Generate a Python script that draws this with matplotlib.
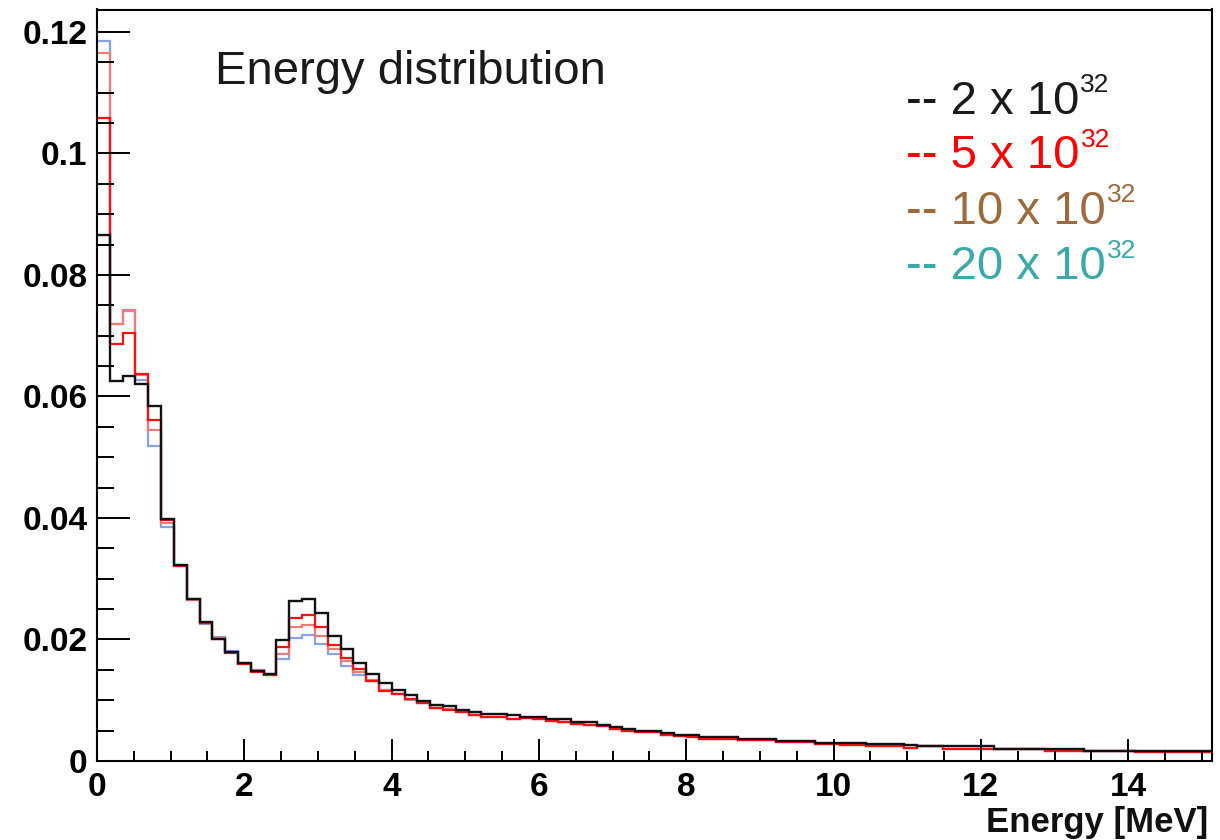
import numpy as np
import matplotlib
matplotlib.use("Agg")
import matplotlib.pyplot as plt
from matplotlib.ticker import MultipleLocator, FuncFormatter

# ---------------- data ----------------
bin_width = 0.174          # MeV
n_bins = 87

vals_2e32 = [
    0.0865, 0.0625, 0.0633, 0.0620, 0.0585, 0.0398, 0.0322, 0.0266, 0.0228, 0.0200,
    0.0179, 0.0161, 0.0148, 0.0143, 0.0199, 0.0263, 0.0266, 0.0243, 0.0206, 0.0184,
    0.0161, 0.0144, 0.0129, 0.0117, 0.0109, 0.0099, 0.0093, 0.0091, 0.0084, 0.0081,
    0.0077, 0.0077, 0.0075, 0.0073, 0.0073, 0.0069, 0.0069, 0.0064, 0.0064, 0.0060,
    0.0056, 0.0053, 0.0050, 0.0050, 0.0046, 0.0043, 0.0043, 0.0040, 0.0040, 0.0040,
    0.0037, 0.0037, 0.0037, 0.0033, 0.0033, 0.0033, 0.0030, 0.0030, 0.0030, 0.0030,
    0.0028, 0.0028, 0.0028, 0.0026, 0.0024, 0.0024, 0.0024, 0.0024, 0.0024, 0.0024,
    0.0019, 0.0019, 0.0019, 0.0019, 0.0019, 0.0019, 0.0019, 0.0016, 0.0016, 0.0016,
    0.0016, 0.0016, 0.0016, 0.0016, 0.0016, 0.0016, 0.0016]

vals_5e32 = [
    0.1059, 0.0687, 0.0704, 0.0637, 0.0562, 0.0397, 0.0321, 0.0266, 0.0227, 0.0201,
    0.0178, 0.0160, 0.0147, 0.0141, 0.0187, 0.0236, 0.0240, 0.0220, 0.0191, 0.0170,
    0.0151, 0.0132, 0.0116, 0.0110, 0.0102, 0.0095, 0.0087, 0.0084, 0.0080, 0.0076,
    0.0073, 0.0072, 0.0069, 0.0070, 0.0069, 0.0066, 0.0065, 0.0061, 0.0060, 0.0057,
    0.0053, 0.0050, 0.0047, 0.0047, 0.0043, 0.0041, 0.0040, 0.0037, 0.0037, 0.0037,
    0.0034, 0.0034, 0.0034, 0.0031, 0.0031, 0.0031, 0.0028, 0.0028, 0.0027, 0.0027,
    0.0025, 0.0025, 0.0025, 0.0022, 0.0024, 0.0024, 0.0020, 0.0020, 0.0020, 0.0020,
    0.0019, 0.0019, 0.0019, 0.0019, 0.0017, 0.0017, 0.0017, 0.0016, 0.0016, 0.0016,
    0.0016, 0.0014, 0.0014, 0.0014, 0.0014, 0.0014, 0.0014]

vals_10e32 = [
    0.1165, 0.0720, 0.0742, 0.0636, 0.0545, 0.0392, 0.0321, 0.0265, 0.0227, 0.0202,
    0.0180, 0.0160, 0.0149, 0.0142, 0.0176, 0.0220, 0.0224, 0.0205, 0.0184, 0.0165,
    0.0146, 0.0133, 0.0117, 0.0110, 0.0102, 0.0095, 0.0088, 0.0085, 0.0080, 0.0076,
    0.0073, 0.0072, 0.0069, 0.0070, 0.0069, 0.0066, 0.0065, 0.0061, 0.0060, 0.0057,
    0.0053, 0.0050, 0.0047, 0.0047, 0.0043, 0.0041, 0.0040, 0.0037, 0.0037, 0.0037,
    0.0034, 0.0034, 0.0034, 0.0031, 0.0031, 0.0031, 0.0028, 0.0028, 0.0027, 0.0027,
    0.0025, 0.0025, 0.0025, 0.0022, 0.0024, 0.0024, 0.0020, 0.0020, 0.0020, 0.0020,
    0.0019, 0.0019, 0.0019, 0.0019, 0.0017, 0.0017, 0.0017, 0.0016, 0.0016, 0.0016,
    0.0016, 0.0014, 0.0014, 0.0014, 0.0014, 0.0014, 0.0014]

vals_20e32 = [
    0.1185, 0.0720, 0.0740, 0.0627, 0.0519, 0.0385, 0.0321, 0.0265, 0.0226, 0.0204,
    0.0181, 0.0161, 0.0150, 0.0143, 0.0168, 0.0203, 0.0207, 0.0192, 0.0176, 0.0157,
    0.0141, 0.0132, 0.0117, 0.0110, 0.0101, 0.0095, 0.0088, 0.0085, 0.0080, 0.0076,
    0.0073, 0.0072, 0.0069, 0.0070, 0.0069, 0.0066, 0.0065, 0.0061, 0.0060, 0.0057,
    0.0053, 0.0050, 0.0047, 0.0047, 0.0043, 0.0041, 0.0040, 0.0037, 0.0037, 0.0037,
    0.0034, 0.0034, 0.0034, 0.0031, 0.0031, 0.0031, 0.0028, 0.0028, 0.0027, 0.0027,
    0.0025, 0.0025, 0.0025, 0.0022, 0.0024, 0.0024, 0.0020, 0.0020, 0.0020, 0.0020,
    0.0019, 0.0019, 0.0019, 0.0019, 0.0017, 0.0017, 0.0017, 0.0016, 0.0016, 0.0016,
    0.0016, 0.0014, 0.0014, 0.0014, 0.0014, 0.0014, 0.0014]

legend_labels = ["-- 2 x 10", "-- 5 x 10", "-- 10 x 10", "-- 20 x 10"]
legend_exp = "32"
legend_colors = ["#1a1a1a", "#ff0000", "#9c6b3b", "#3aa9a9"]

title_text = "Energy distribution"
x_label = "Energy [MeV]"
x_ticks = [0, 2, 4, 6, 8, 10, 12, 14]
y_ticks = [0, 0.02, 0.04, 0.06, 0.08, 0.1, 0.12]

# ---------------- figure ----------------
W, H = 1220, 840
fig = plt.figure(figsize=(W / 100, H / 100), dpi=100)
fig.patch.set_facecolor("white")

ax_l, ax_r, ax_t, ax_b = 97, 1212, 9.5, 761
ax = fig.add_axes([ax_l / W, 1 - ax_b / H, (ax_r - ax_l) / W, (ax_b - ax_t) / H])

edges = np.arange(n_bins + 1) * bin_width

series = [
    (vals_20e32, "#87a3e4", 1.6),
    (vals_10e32, "#f07a7a", 1.6),
    (vals_5e32, "#ff1010", 1.6),
    (vals_2e32, "#111111", 1.7),
]
for vals, col, lw in series:
    ax.stairs(vals, edges, baseline=None, color=col, linewidth=lw)

ax.set_xlim(0, edges[-1])
ax.set_ylim(0, 0.1237)

for sp in ax.spines.values():
    sp.set_linewidth(1.5)
    sp.set_color("black")

ax.xaxis.set_minor_locator(MultipleLocator(0.5))
ax.yaxis.set_minor_locator(MultipleLocator(0.005))
ax.set_xticks(x_ticks)
ax.set_yticks(y_ticks)
ax.yaxis.set_major_formatter(FuncFormatter(lambda v, p: "%g" % round(v, 4)))
ax.xaxis.set_major_formatter(FuncFormatter(lambda v, p: "%g" % v))

ax.tick_params(axis="y", which="major", direction="in", length=23.8, width=1.4,
               pad=7, left=True, right=False)
ax.tick_params(axis="y", which="minor", direction="in", length=12.2, width=1.4,
               left=True, right=False)
ax.tick_params(axis="x", which="major", direction="in", length=15.8, width=1.4,
               pad=8, bottom=True, top=False)
ax.tick_params(axis="x", which="minor", direction="in", length=7.2, width=1.4,
               bottom=True, top=False)
for lab in ax.get_xticklabels() + ax.get_yticklabels():
    lab.set_fontfamily("Liberation Sans")
    lab.set_fontweight("bold")
    lab.set_fontsize(24)

# title inside the frame
fig.text(215 / W, 1 - 84.5 / H, title_text, fontsize=34, family="Liberation Sans",
         color="#1a1a1a", ha="left", va="baseline")

# x label at bottom right
fig.text(1208 / W, 1 - 832 / H, x_label, fontsize=25, family="Liberation Sans",
         weight="bold", color="#111111", ha="right", va="baseline")

# legend-like text block
fig.canvas.draw()
renderer = fig.canvas.get_renderer()
baselines = [113.5, 168.5, 223.5, 279.0]
for lab, col, yb in zip(legend_labels, legend_colors, baselines):
    t = fig.text(906 / W, 1 - yb / H, lab, fontsize=34, family="Liberation Sans",
                 color=col, ha="left", va="baseline")
    bb = t.get_window_extent(renderer=renderer)
    x_right = bb.x1 + 1
    fig.text(x_right / W, 1 - (yb - 21.5) / H, legend_exp, fontsize=19,
             family="Liberation Sans", color=col, ha="left", va="baseline")

fig.savefig("out.png", dpi=100, facecolor="white")
